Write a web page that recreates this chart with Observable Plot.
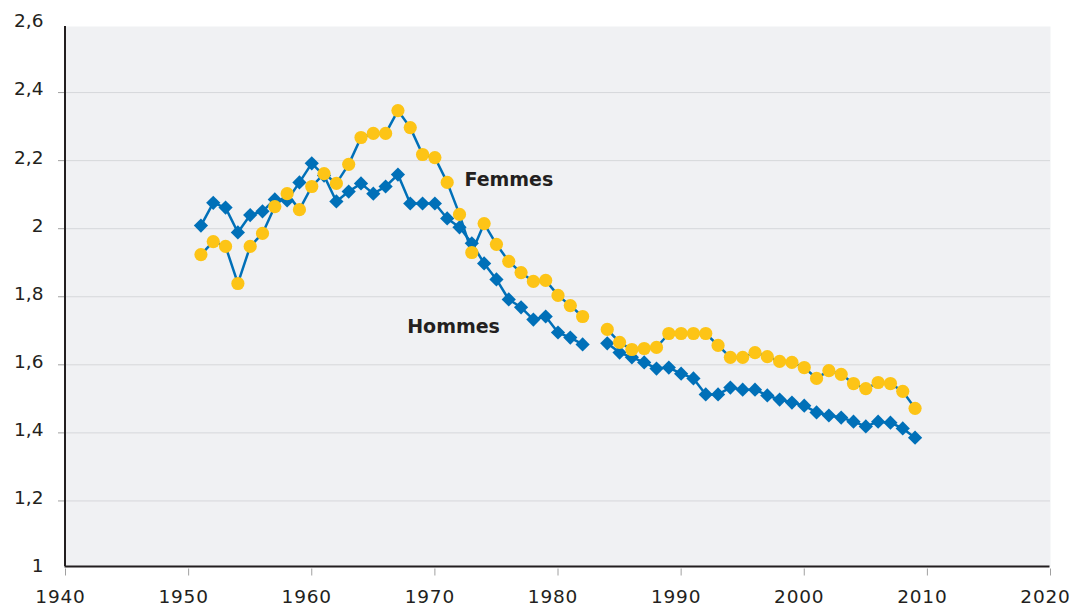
<!DOCTYPE html>
<html>
<head>
<meta charset="utf-8">
<script src="https://cdn.jsdelivr.net/npm/d3@7"></script>
<script src="https://cdn.jsdelivr.net/npm/@observablehq/plot@0.6"></script>
<style>
  html, body { margin: 0; padding: 0; background: #fff; }
  #chart svg { display: block; }
  g[aria-label="x-axis tick"], g[aria-label="y-axis tick"] { stroke: #a0a0a0; }
  g[aria-label="x-axis tick label"] text, g[aria-label="y-axis tick label"] text { font-size: 18.5px; fill: #231f20; }
  g[aria-label="x-axis tick label"] text { letter-spacing: 0.8px; }
</style>
</head>
<body>
<div id="chart"></div>
<script>
const years = d3.range(1951, 2010);
const hommes = [2.009, 2.076, 2.062, 1.989, 2.040, 2.051, 2.086, 2.083, 2.136, 2.192,
  2.156, 2.080, 2.109, 2.133, 2.103, 2.124, 2.159, 2.074, 2.074, 2.074,
  2.030, 2.004, 1.957, 1.898, 1.851, 1.792, 1.769, 1.733, 1.742, 1.695,
  1.680, 1.660, null, 1.663, 1.636, 1.622, 1.607, 1.589, 1.592, 1.574,
  1.560, 1.513, 1.513, 1.533, 1.527, 1.527, 1.510, 1.498, 1.489, 1.480,
  1.460, 1.451, 1.445, 1.433, 1.419, 1.433, 1.430, 1.413, 1.386];
const femmes = [1.924, 1.962, 1.948, 1.839, 1.948, 1.986, 2.065, 2.103, 2.056, 2.124,
  2.162, 2.133, 2.189, 2.268, 2.280, 2.280, 2.347, 2.297, 2.218, 2.209,
  2.136, 2.042, 1.930, 2.015, 1.954, 1.904, 1.871, 1.845, 1.848, 1.804,
  1.774, 1.742, null, 1.704, 1.666, 1.645, 1.648, 1.651, 1.692, 1.692,
  1.692, 1.692, 1.657, 1.622, 1.622, 1.636, 1.624, 1.610, 1.607, 1.592,
  1.560, 1.583, 1.572, 1.545, 1.530, 1.548, 1.545, 1.522, 1.472];
const xTicks = [1940, 1950, 1960, 1970, 1980, 1990, 2000, 2010, 2020];
const yTicks = [1, 1.2, 1.4, 1.6, 1.8, 2, 2.2, 2.4, 2.6];
const seriesLabels = [
  {name: "Femmes", year: 1972.4, value: 2.142},
  {name: "Hommes", year: 1967.75, value: 1.712}
];

const hData = years.map((y, i) => ({year: y, value: hommes[i]}));
const fData = years.map((y, i) => ({year: y, value: femmes[i]}));
const innerY = yTicks.filter(d => d > 1 && d < 2.6);

const blue = "#0070b8";
const yellow = "#fdc416";

const chart = Plot.plot({
  width: 1072,
  height: 607,
  marginLeft: 65,
  marginRight: 22,
  marginTop: 24,
  marginBottom: 38.5,
  style: {fontFamily: "'DejaVu Sans', sans-serif", fontSize: "18.5px", color: "#231f20", background: "#fff"},
  x: {domain: [1940, 2020]},
  y: {domain: [1, 2.6]},
  marks: [
    Plot.frame({fill: "#f0f1f3", stroke: null, insetTop: 2, insetBottom: 2.5}),
    Plot.ruleY(innerY, {stroke: "#d6d7da", strokeWidth: 1}),
    Plot.axisX({ticks: xTicks, tickSize: 7, tickFormat: () => "", label: null}),
    Plot.axisX({ticks: xTicks, tickSize: 0, tickPadding: 21, dx: -5, tickFormat: d => String(d), label: null}),
    Plot.axisY({ticks: innerY, tickSize: 7, tickFormat: () => "", label: null}),
    Plot.axisY({ticks: yTicks, tickSize: 0, tickPadding: 22, dy: -3, label: null,
      tickFormat: d => String(+d.toFixed(1)).replace(".", ",")}),
    Plot.line(hData, {x: "year", y: "value", stroke: blue, strokeWidth: 2.5}),
    Plot.dot(hData.filter(d => d.value != null), {x: "year", y: "value", symbol: "diamond2", r: 6.4, fill: blue, stroke: null}),
    Plot.line(fData, {x: "year", y: "value", stroke: blue, strokeWidth: 2.5}),
    Plot.dot(fData.filter(d => d.value != null), {x: "year", y: "value", r: 6.6, fill: yellow, stroke: null}),
    Plot.ruleX([1940], {stroke: "#231f20", strokeWidth: 2, dx: -0.5, insetTop: 2, insetBottom: 2.5}),
    Plot.ruleY([1], {stroke: "#231f20", strokeWidth: 2, dy: -2.5, dx: -0.5}),
    Plot.text(seriesLabels, {x: "year", y: "value", text: "name", textAnchor: "start", fontSize: 19, fontWeight: "bold", fill: "#231f20"})
  ]
});
document.getElementById("chart").appendChild(chart);
</script>
</body>
</html>
